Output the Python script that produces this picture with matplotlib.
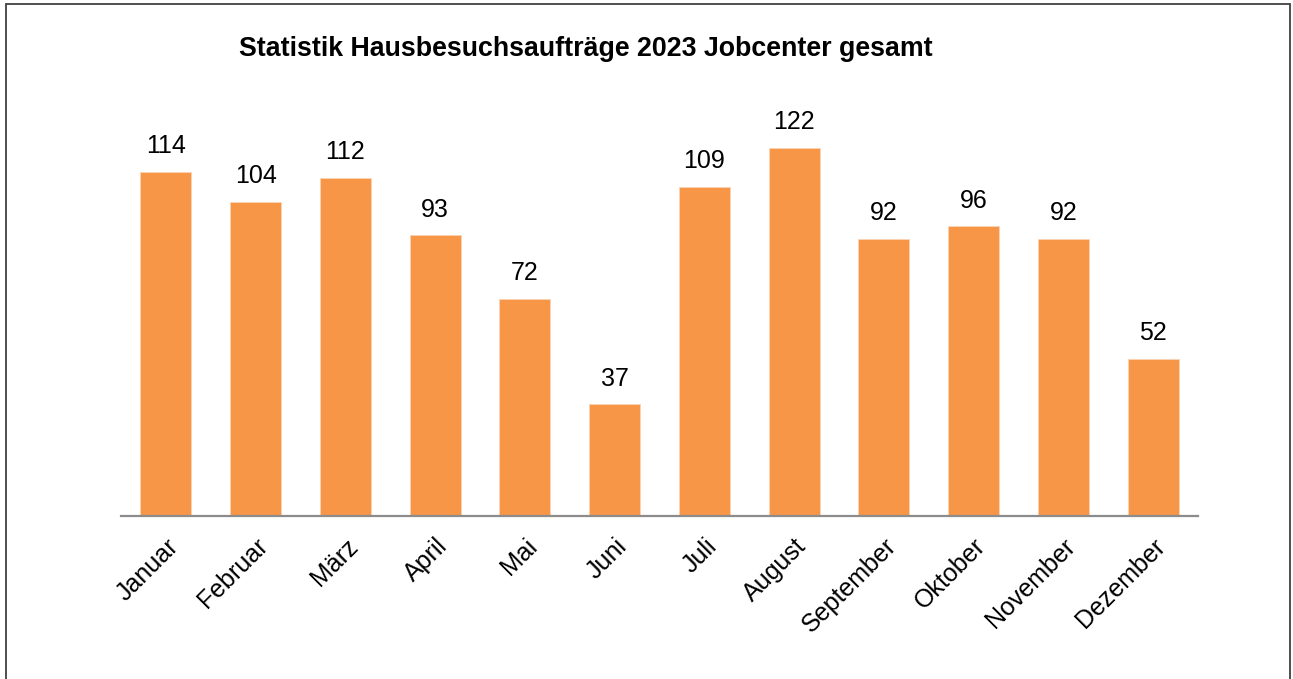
import matplotlib
matplotlib.use("Agg")
import matplotlib.pyplot as plt
from matplotlib.patches import Rectangle

plt.rcParams['font.family'] = ['Liberation Sans', 'DejaVu Sans']

months = ["Januar", "Februar", "März", "April", "Mai", "Juni",
          "Juli", "August", "September", "Oktober", "November", "Dezember"]
visits = [114, 104, 112, 93, 72, 37, 109, 122, 92, 96, 92, 52]

bar_color = "#F79646"
axis_gray = "#8C8C8C"

fig = plt.figure(figsize=(12.93, 6.79), dpi=100)
ax = fig.add_axes([0.0936, 0.240, 0.8329, 0.622])

x = range(len(months))
bars = ax.bar(x, visits, width=0.57, color=bar_color, edgecolor="#FAD3B5", linewidth=0.6)

for b, v in zip(bars, visits):
    ax.annotate(str(v), (b.get_x() + b.get_width() / 2, v),
                xytext=(0, 10), textcoords="offset points",
                ha="center", va="bottom", fontsize=18)

ax.set_xlim(-0.5, len(months) - 0.5)
ax.set_ylim(0, 140)
ax.set_xticks(list(x))
ax.set_xticklabels(months, rotation=45, ha="right", va="top",
                   rotation_mode="anchor", fontsize=18)
ax.tick_params(axis="x", length=0, pad=13)
ax.set_yticks([])

for side in ["top", "right", "left"]:
    ax.spines[side].set_visible(False)
ax.spines["bottom"].set_color(axis_gray)
ax.spines["bottom"].set_linewidth(1.6)

fig.text(0.453, 0.928, "Statistik Hausbesuchsaufträge 2023 Jobcenter gesamt",
         ha="center", va="center", fontsize=19.3, fontweight="bold")

# outer frame, bottom edge runs past the canvas
fig.patches.append(Rectangle((6 / 1293, -0.05), 1284 / 1293, 1.05 - 3.5 / 679,
                             transform=fig.transFigure, fill=False,
                             edgecolor="#404040", linewidth=1.3))

fig.savefig("out.png", dpi=100)
